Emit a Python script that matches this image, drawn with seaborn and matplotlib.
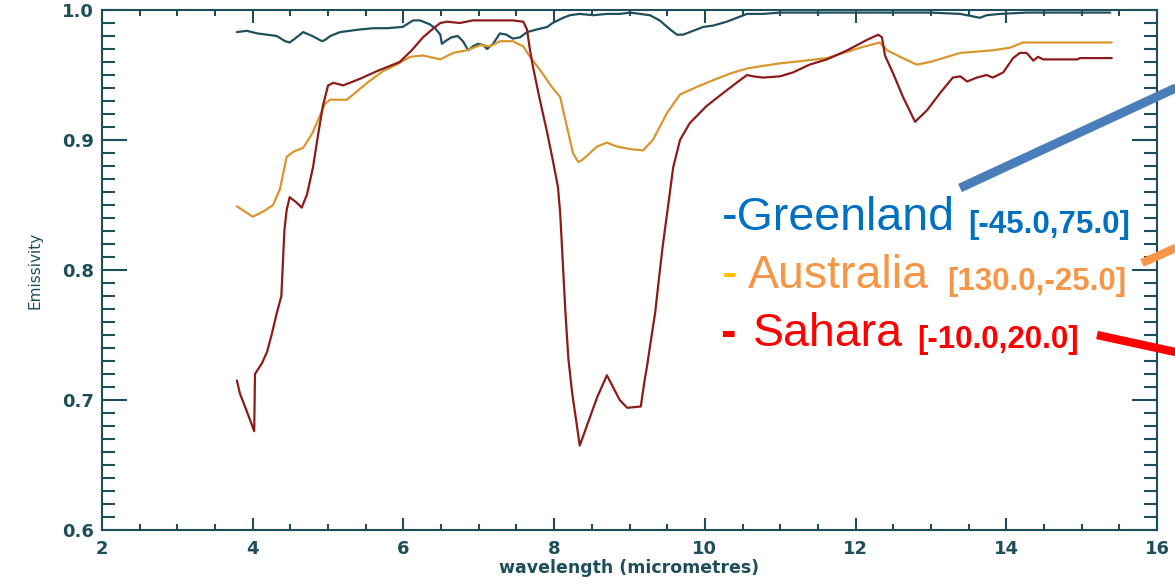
import matplotlib.pyplot as plt
import seaborn as sns
from matplotlib.lines import Line2D
from matplotlib.ticker import MultipleLocator

# data: wavelength (micrometres) and emissivity
greenland_wl = [3.79, 3.92, 4.06, 4.19, 4.32, 4.43, 4.49, 4.56, 4.67, 4.79, 4.92, 4.96, 5.03, 5.16,
                5.29, 5.42, 5.60, 5.78, 5.99, 6.13, 6.22, 6.35, 6.42, 6.49, 6.51, 6.58, 6.64, 6.72,
                6.79, 6.86, 6.92, 6.99, 7.06, 7.11, 7.19, 7.28, 7.37, 7.45, 7.55, 7.64, 7.77, 7.91,
                7.98, 8.12, 8.21, 8.34, 8.52, 8.70, 8.87, 9.01, 9.14, 9.27, 9.40, 9.54, 9.63, 9.71,
                9.80, 9.98, 10.11, 10.29, 10.47, 10.56, 10.77, 11.00, 11.53, 11.79, 12.32, 12.99,
                13.39, 13.48, 13.65, 13.74, 13.92, 14.27, 14.49, 14.85, 15.38]
greenland_em = [0.983, 0.984, 0.982, 0.981, 0.980, 0.976, 0.975, 0.978, 0.983, 0.980, 0.976, 0.977,
                0.980, 0.983, 0.984, 0.985, 0.986, 0.986, 0.987, 0.992, 0.992, 0.989, 0.986, 0.981,
                0.974, 0.977, 0.979, 0.980, 0.976, 0.969, 0.972, 0.974, 0.973, 0.970, 0.974, 0.982,
                0.981, 0.978, 0.979, 0.983, 0.985, 0.987, 0.990, 0.994, 0.996, 0.997, 0.996, 0.997,
                0.997, 0.998, 0.997, 0.996, 0.992, 0.985, 0.981, 0.981, 0.983, 0.987, 0.988, 0.991,
                0.995, 0.997, 0.997, 0.998, 0.998, 0.998, 0.998, 0.998, 0.997, 0.996, 0.994, 0.996,
                0.997, 0.998, 0.998, 0.998, 0.998]

australia_wl = [3.79, 4.00, 4.14, 4.27, 4.36, 4.45, 4.54, 4.67, 4.79, 4.85, 4.96, 5.03, 5.25, 5.52,
                5.73, 5.91, 6.09, 6.26, 6.49, 6.66, 6.84, 7.02, 7.15, 7.28, 7.45, 7.59, 7.68, 7.81,
                7.98, 8.08, 8.17, 8.25, 8.32, 8.38, 8.57, 8.70, 8.83, 9.01, 9.18, 9.31, 9.50, 9.67,
                9.90, 10.11, 10.33, 10.56, 10.77, 11.00, 11.17, 11.62, 12.06, 12.32, 12.42, 12.59,
                12.81, 12.99, 13.39, 13.82, 14.05, 14.22, 14.71, 15.40]
australia_em = [0.849, 0.841, 0.845, 0.850, 0.862, 0.887, 0.891, 0.894, 0.905, 0.913, 0.928, 0.931,
                0.931, 0.944, 0.953, 0.958, 0.964, 0.965, 0.962, 0.967, 0.969, 0.973, 0.972, 0.976,
                0.976, 0.972, 0.964, 0.954, 0.940, 0.933, 0.910, 0.890, 0.883, 0.885, 0.895, 0.898,
                0.895, 0.893, 0.892, 0.900, 0.921, 0.935, 0.941, 0.946, 0.951, 0.955, 0.957, 0.959,
                0.960, 0.963, 0.971, 0.975, 0.969, 0.964, 0.958, 0.960, 0.967, 0.969, 0.971, 0.975,
                0.975, 0.975]

sahara_wl = [3.79, 3.83, 3.93, 4.02, 4.03, 4.12, 4.19, 4.25, 4.32, 4.38, 4.40, 4.42, 4.45, 4.49,
             4.58, 4.65, 4.72, 4.80, 4.87, 4.93, 5.00, 5.07, 5.20, 5.42, 5.65, 5.95, 6.11, 6.26,
             6.40, 6.49, 6.58, 6.75, 6.92, 7.11, 7.28, 7.45, 7.59, 7.64, 7.68, 7.72, 7.81, 7.91,
             7.98, 8.05, 8.08, 8.12, 8.15, 8.19, 8.24, 8.34, 8.57, 8.70, 8.87, 8.97, 9.15, 9.20,
             9.23, 9.30, 9.34, 9.40, 9.44, 9.50, 9.58, 9.67, 9.80, 10.02, 10.24, 10.42, 10.56,
             10.64, 10.77, 11.00, 11.17, 11.39, 11.62, 11.89, 12.15, 12.30, 12.35, 12.39, 12.50,
             12.63, 12.79, 12.95, 13.12, 13.29, 13.39, 13.48, 13.61, 13.74, 13.82, 13.96, 14.09,
             14.18, 14.27, 14.36, 14.42, 14.49, 14.94, 14.98, 15.40]
sahara_em = [0.715, 0.705, 0.690, 0.676, 0.720, 0.728, 0.737, 0.750, 0.767, 0.780, 0.805, 0.830,
             0.846, 0.856, 0.852, 0.848, 0.858, 0.879, 0.905, 0.926, 0.942, 0.944, 0.942, 0.947,
             0.953, 0.960, 0.969, 0.979, 0.986, 0.990, 0.991, 0.990, 0.992, 0.992, 0.992, 0.992,
             0.991, 0.985, 0.969, 0.956, 0.931, 0.905, 0.885, 0.864, 0.844, 0.800, 0.767, 0.731,
             0.705, 0.665, 0.702, 0.719, 0.700, 0.694, 0.695, 0.715, 0.725, 0.752, 0.767, 0.798,
             0.818, 0.844, 0.879, 0.900, 0.913, 0.926, 0.936, 0.944, 0.950, 0.949, 0.948, 0.949,
             0.952, 0.958, 0.962, 0.969, 0.977, 0.981, 0.979, 0.965, 0.951, 0.933, 0.914, 0.923,
             0.936, 0.948, 0.949, 0.945, 0.948, 0.950, 0.948, 0.952, 0.963, 0.967, 0.967, 0.961,
             0.964, 0.962, 0.962, 0.963, 0.963]

axis_col = '#1d4e5a'

sns.set_style('ticks')
plt.rcParams['font.family'] = ['DejaVu Sans']

fig = plt.figure(figsize=(11.75, 5.83), dpi=100)
ax = fig.add_axes([102 / 1175, 53 / 583, 1055 / 1175, 520 / 583])

sns.lineplot(x=greenland_wl, y=greenland_em, color='#1f4f5c', lw=1.6, sort=False, estimator=None, ax=ax)
sns.lineplot(x=australia_wl, y=australia_em, color='#d9962e', lw=1.6, sort=False, estimator=None, ax=ax)
sns.lineplot(x=sahara_wl, y=sahara_em, color='#8c1c1c', lw=1.6, sort=False, estimator=None, ax=ax)

ax.set_xlim(2, 16)
ax.set_ylim(0.6, 1.0)
ax.xaxis.set_major_locator(MultipleLocator(2))
ax.xaxis.set_minor_locator(MultipleLocator(0.5))
ax.yaxis.set_major_locator(MultipleLocator(0.1))
ax.yaxis.set_minor_locator(MultipleLocator(0.01))
ax.set_xticks([2, 4, 6, 8, 10, 12, 14, 16])
ax.set_xticklabels(['2', '4', '6', '8', '10', '12', '14', '16'])
ax.set_yticks([0.6, 0.7, 0.8, 0.9, 1.0])
ax.set_yticklabels(['0.6', '0.7', '0.8', '0.9', '1.0'])

for s in ax.spines.values():
    s.set_color(axis_col)
    s.set_linewidth(1.5)
ax.tick_params(which='both', direction='in', top=True, right=True, color=axis_col, width=1.5,
               labelcolor=axis_col)
ax.tick_params(axis='x', which='major', length=9, pad=7, labelsize=13)
ax.tick_params(axis='x', which='minor', length=4.5)
ax.tick_params(axis='y', which='major', length=18, pad=6, labelsize=13)
ax.tick_params(axis='y', which='minor', length=9.5)
for lab in ax.get_xticklabels() + ax.get_yticklabels():
    lab.set_fontweight('bold')

ax.set_xlabel('wavelength (micrometres)', fontsize=12.5, fontweight='bold', color=axis_col, labelpad=1)
ax.set_ylabel('Emissivity', fontsize=11, color=axis_col, labelpad=14)


# legend-style labels and pointer lines (pixel positions turned into figure fractions)
def fx(px):
    return px / 1175


def fy(py):
    return 1 - py / 583


big = dict(family='Liberation Sans', fontsize=33.5, va='baseline')
small = dict(family='Liberation Sans', fontsize=22.5, fontweight='bold', va='baseline')

fig.text(fx(722), fy(230), '-Greenland', color='#0070c0', **big)
fig.text(fx(968), fy(233), '[-45.0,75.0]', color='#0070c0', **small)
fig.text(fx(722), fy(288), '-', color='#ffc000', **big)
fig.text(fx(748), fy(288), 'Australia', color='#f79646', **big)
fig.text(fx(947), fy(290), '[130.0,-25.0]', color='#f79646', **small)
fig.text(fx(720), fy(346), '-', color='#ff0000', fontweight='bold', family='Liberation Sans',
         fontsize=33.5, va='baseline')
fig.text(fx(753), fy(346), 'Sahara', color='#ff0000', **big)
fig.text(fx(917), fy(348), '[-10.0,20.0]', color='#ff0000', **small)

fig.add_artist(Line2D([fx(960), fx(1180)], [fy(188), fy(86)], color='#4a7ebb', lw=6.5,
                      solid_capstyle='butt'))
fig.add_artist(Line2D([fx(1142), fx(1180)], [fy(263), fy(246)], color='#f79646', lw=6,
                      solid_capstyle='butt'))
fig.add_artist(Line2D([fx(1097), fx(1180)], [fy(335), fy(353)], color='#ff0000', lw=6,
                      solid_capstyle='butt'))

fig.savefig('out.png', dpi=100)
